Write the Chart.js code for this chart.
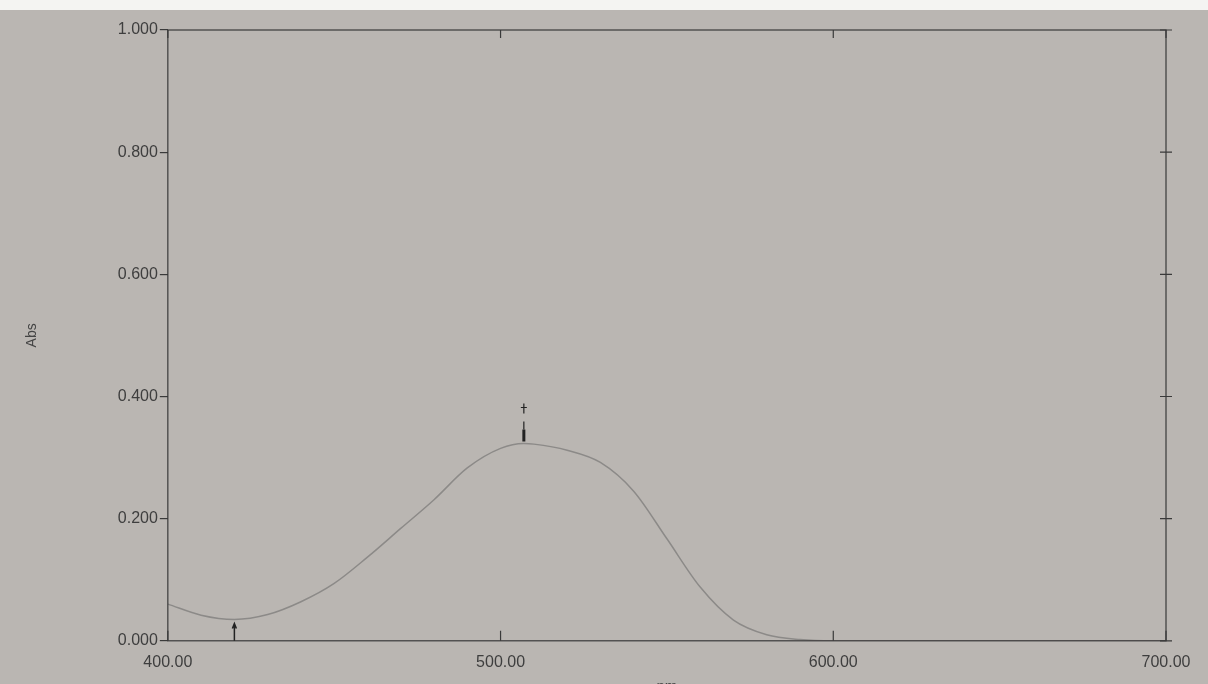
<!DOCTYPE html>
<html>
<head>
<meta charset="utf-8">
<script src="https://cdn.jsdelivr.net/npm/chart.js@4/dist/chart.umd.min.js"></script>
<style>
  html, body { margin: 0; padding: 0; background: #f4f4f2; }
  #wrap { position: absolute; left: 0; top: 10px; width: 1208px; height: 674px; background: #bab6b2; }
</style>
</head>
<body>
<div id="wrap"><canvas id="spec" width="1208" height="674"></canvas></div>
<script>
// absorbance spectrum
const wavelengths = [400, 410, 420, 430, 440, 450, 460, 470, 480, 490, 500, 507, 510, 520, 530, 540, 550, 560, 570, 580, 590, 600, 620, 640, 660, 680, 700];
const absorbance  = [0.060, 0.042, 0.035, 0.043, 0.064, 0.094, 0.137, 0.184, 0.231, 0.283, 0.315, 0.323, 0.322, 0.312, 0.292, 0.245, 0.167, 0.088, 0.034, 0.010, 0.002, 0.000, 0.000, 0.000, 0.000, 0.000, 0.000];
const xTicks = [400, 500, 600, 700];
const yTicks = [0, 0.2, 0.4, 0.6, 0.8, 1.0];
// peak / valley picks
const pickX = [420, 507];
const pickY = [0.035, 0.323];

const ink = '#3a3a3a';

const framePlugin = {
  id: 'frame',
  afterDraw(chart) {
    const ctx = chart.ctx;
    const a = chart.chartArea;
    const xs = chart.scales.x;
    const ys = chart.scales.y;
    ctx.save();
    ctx.strokeStyle = ink;
    ctx.lineWidth = 1.2;
    ctx.strokeRect(a.left, a.top, a.right - a.left, a.bottom - a.top);
    // inner ticks on bottom and top
    ctx.beginPath();
    xTicks.forEach(v => {
      const px = xs.getPixelForValue(v);
      ctx.moveTo(px, a.bottom); ctx.lineTo(px, a.bottom - 10);
      ctx.moveTo(px, a.top); ctx.lineTo(px, a.top + 8);
    });
    // ticks on right side
    yTicks.forEach(v => {
      const py = ys.getPixelForValue(v);
      ctx.moveTo(a.right - 6, py); ctx.lineTo(a.right + 6, py);
    });
    ctx.stroke();
    // pick markers
    ctx.strokeStyle = '#222';
    pickX.forEach((v, i) => {
      const px = xs.getPixelForValue(v);
      const py = ys.getPixelForValue(pickY[i]);
      ctx.lineWidth = 1.5;
      ctx.beginPath();
      if (i === 0) {
        ctx.moveTo(px, a.bottom); ctx.lineTo(px, py + 4);
        ctx.moveTo(px - 2, py + 9); ctx.lineTo(px, py + 4); ctx.lineTo(px + 2, py + 9);
      } else {
        ctx.lineWidth = 3;
        ctx.moveTo(px, py - 2); ctx.lineTo(px, py - 14);
        ctx.stroke();
        ctx.lineWidth = 1.2;
        ctx.beginPath();
        ctx.moveTo(px, py - 14); ctx.lineTo(px, py - 22);
        ctx.moveTo(px - 3, py - 36); ctx.lineTo(px + 3, py - 36);
        ctx.moveTo(px, py - 40); ctx.lineTo(px, py - 30);
      }
      ctx.stroke();
    });
    ctx.restore();
  }
};

new Chart(document.getElementById('spec'), {
  type: 'line',
  data: {
    datasets: [{
      data: wavelengths.map((w, i) => ({ x: w, y: absorbance[i] })),
      borderColor: '#8c8a88',
      borderWidth: 1.5,
      pointRadius: 0,
      tension: 0.4,
      cubicInterpolationMode: 'monotone'
    }]
  },
  options: {
    responsive: false,
    animation: false,
    layout: { padding: { left: 20, right: 42, top: 20, bottom: 0 } },
    plugins: { legend: { display: false }, tooltip: { enabled: false } },
    scales: {
      x: {
        type: 'linear',
        min: 400, max: 700,
        afterBuildTicks: s => { s.ticks = xTicks.map(v => ({ value: v })); },
        grid: { display: false, drawTicks: false },
        border: { display: false },
        ticks: {
          color: '#3e3e3e', padding: 12,
          font: { family: 'Liberation Sans', size: 16 },
          maxRotation: 0,
          callback: v => v.toFixed(2)
        },
        title: { display: true, text: 'nm', color: '#444', padding: { top: -6, bottom: -12 }, font: { family: 'Liberation Sans', size: 15 } }
      },
      y: {
        min: 0, max: 1,
        afterBuildTicks: s => { s.ticks = yTicks.map(v => ({ value: v })); },
        grid: { drawOnChartArea: false, tickLength: 8, color: ink, lineWidth: 1.2 },
        border: { display: false },
        ticks: {
          color: '#3e3e3e', padding: 2,
          font: { family: 'Liberation Sans', size: 16 },
          callback: v => v.toFixed(3)
        },
        title: { display: true, text: 'Abs', color: '#444', padding: { bottom: 75 }, font: { family: 'Liberation Sans', size: 14 } }
      }
    }
  },
  plugins: [framePlugin]
});
</script>
</body>
</html>
